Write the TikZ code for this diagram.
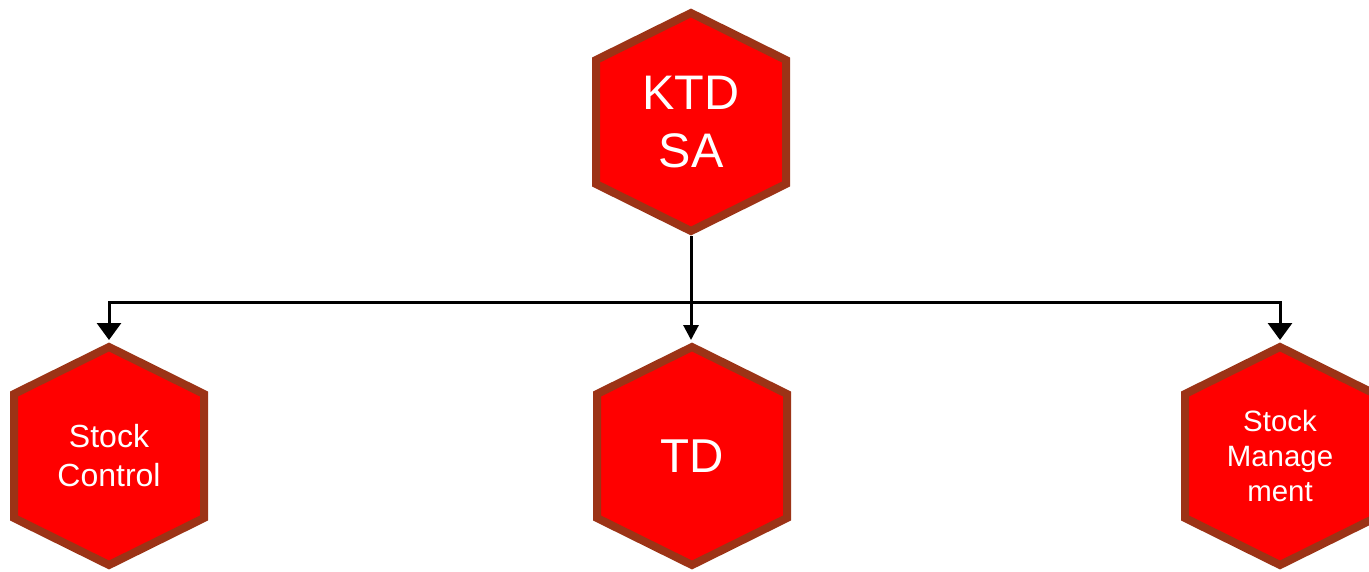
\documentclass[tikz,border=0pt]{standalone}
\usepackage{fontspec}
\setmainfont{Liberation Sans}
\usetikzlibrary{arrows.meta}
\definecolor{hexfill}{RGB}{255,0,0}
\definecolor{hexline}{RGB}{156,51,22}
\tikzset{
  hexshape/.style={fill=hexfill,draw=hexline,line width=8pt,line join=miter},
  hextext/.style={text=white,align=center,inner sep=0pt},
  conn/.style={draw=black,line width=3pt},
  bigtip/.style={conn,-{Triangle[width=24pt,length=17pt]}},
  smalltip/.style={conn,-{Triangle[width=15pt,length=15pt]}}
}
\newcommand{\hexnode}[5]{%
  \path[hexshape] (#2,#3) +(0,-109) -- +(95,-62) -- +(95,62) -- +(0,109) -- +(-95,62) -- +(-95,-62) -- cycle;
  \path (#2,#3) +(0,-116) coordinate (#1-t) +(0,114) coordinate (#1-b);
  \node[hextext,font=#4] (#1) at (#2,#3) {#5};
}
\begin{document}
\begin{tikzpicture}[x=1pt,y=-1pt]
\useasboundingbox[fill=white] (0,0) rectangle (1369,571);
\hexnode{ktd}{691}{122}{\fontsize{48.5}{58}\selectfont}{KTD\\SA}
\hexnode{sc}{109}{456}{\fontsize{32}{39}\selectfont}{Stock\\Control}
\hexnode{td}{692}{456}{\fontsize{47.5}{58}\selectfont}{TD}
\hexnode{sm}{1280}{456}{\fontsize{29.4}{35}\selectfont}{Stock\\Manage\\ment}
\coordinate (bus) at (691,302);
\draw[smalltip] (ktd-b) -- (ktd-b |- td-t);
\draw[bigtip] (bus) -| (sc-t);
\draw[bigtip] (bus) -| (sm-t);
\end{tikzpicture}
\end{document}
